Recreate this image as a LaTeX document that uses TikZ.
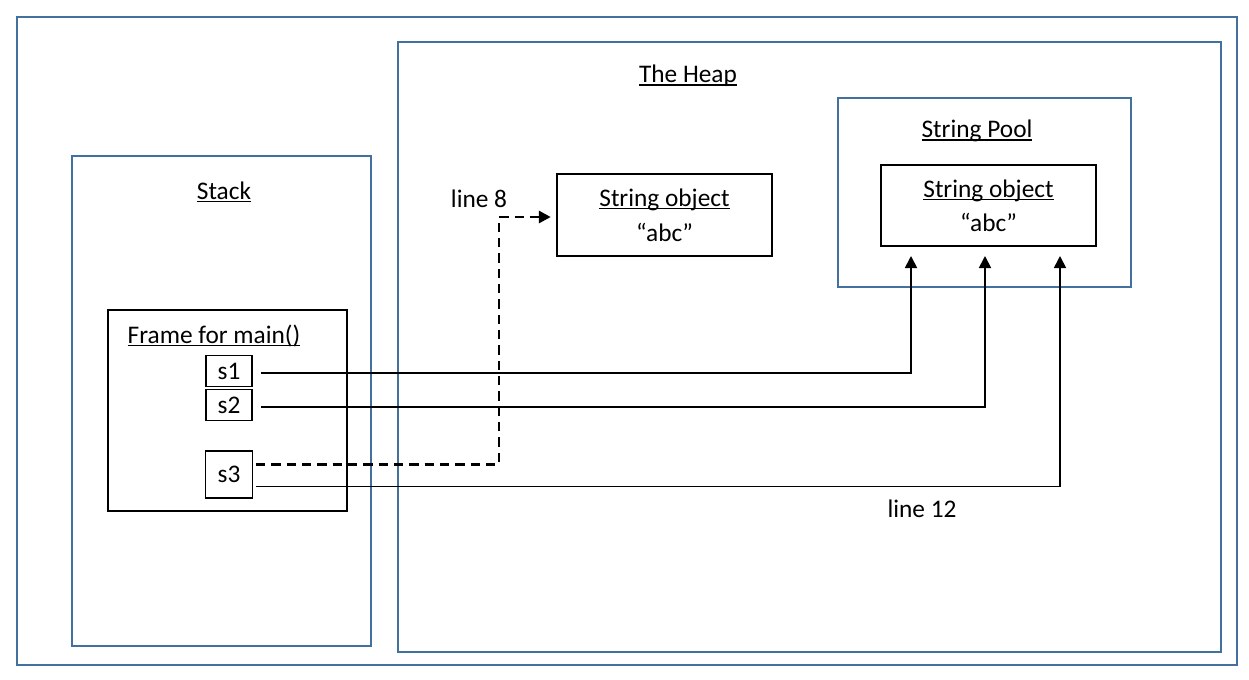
\documentclass[tikz,border=0pt]{standalone}
\usepackage{fontspec}
\setmainfont{Carlito}
\usepackage{xcolor}
\usetikzlibrary{arrows.meta}
\definecolor{memblue}{HTML}{41719C}
% underline just under the baseline
\newcommand{\uln}[1]{\setbox0\hbox{#1}\rlap{\rule[-2.2pt]{\wd0}{1.1pt}}\box0}
\tikzset{
  area/.style={draw=memblue, line width=1.5pt},
  objbox/.style={draw, line width=1.3pt, align=center, inner sep=0pt, minimum width=161.25pt},
  refbox/.style={draw, line width=1.3pt, inner sep=0pt, minimum width=34.5pt},
  ref/.style={line width=1.3pt, -{Triangle[length=9pt, width=9pt]}},
  newref/.style={ref, line width=2.2pt, dash pattern=on 7pt off 4.5pt}
}
\begin{document}
\begin{tikzpicture}[x=0.75pt, y=-0.75pt, font=\fontsize{19}{23}\selectfont]
				\useasboundingbox (0,0) rectangle (1249,679);
				% memory areas
				\draw[area] (17,17) rectangle (1237,665);
				\draw[area] (398,42) rectangle (1221,652);
				\draw[area] (72,156) rectangle (371,646);
				\draw[area] (838,98) rectangle (1131,287);
				\node (heap) at (688,76) {\uln{The Heap}};
				\node (stack) at (224,192) {\uln{Stack}};
				\node (pool) at (977,131) {\uln{String Pool}};
				% stack frame
				\draw[line width=1.3pt] (108,310) rectangle (347,511);
				\node[anchor=west] (frame) at (123,336) {\uln{Frame for main()}};
				\node[refbox, minimum height=23.25pt] (s1) at (229,371) {s1};
				\node[refbox, minimum height=23.25pt] (s2) at (229,405) {s2};
				\node[refbox, minimum height=35.6pt, minimum width=35.25pt] (s3) at (229,474.5) {s3};
				% string objects
				\node[objbox, minimum height=61.5pt] (heapobj) at (664.5,215) {\uln{String object}\\[3pt]“abc”};
				\node[objbox, minimum height=60.75pt] (poolobj) at (988.5,205.5) {\uln{String object}\\[2.5pt]“abc”};
				% references
				\coordinate (a1) at (911,256);
				\coordinate (a2) at (985,256);
				\coordinate (a3) at (1060,256);
				\coordinate (a8) at (499,217);
				\draw[ref] ([xshift=6pt,yshift=-1.5pt]s1.east) -| (a1);
				\draw[ref] ([xshift=6pt,yshift=-1.5pt]s2.east) -| (a2);
				\draw[ref] ([xshift=2pt,yshift=-9pt]s3.east) -| (a3);
				\draw[newref] ([xshift=2pt,yshift=7.5pt]s3.east) -| (a8) -- ([xshift=-4pt]heapobj.west |- a8);
				\node (line8) at (479,199) {line 8};
				\node (line12) at (922,509) {line 12};
			\end{tikzpicture}
\end{document}
